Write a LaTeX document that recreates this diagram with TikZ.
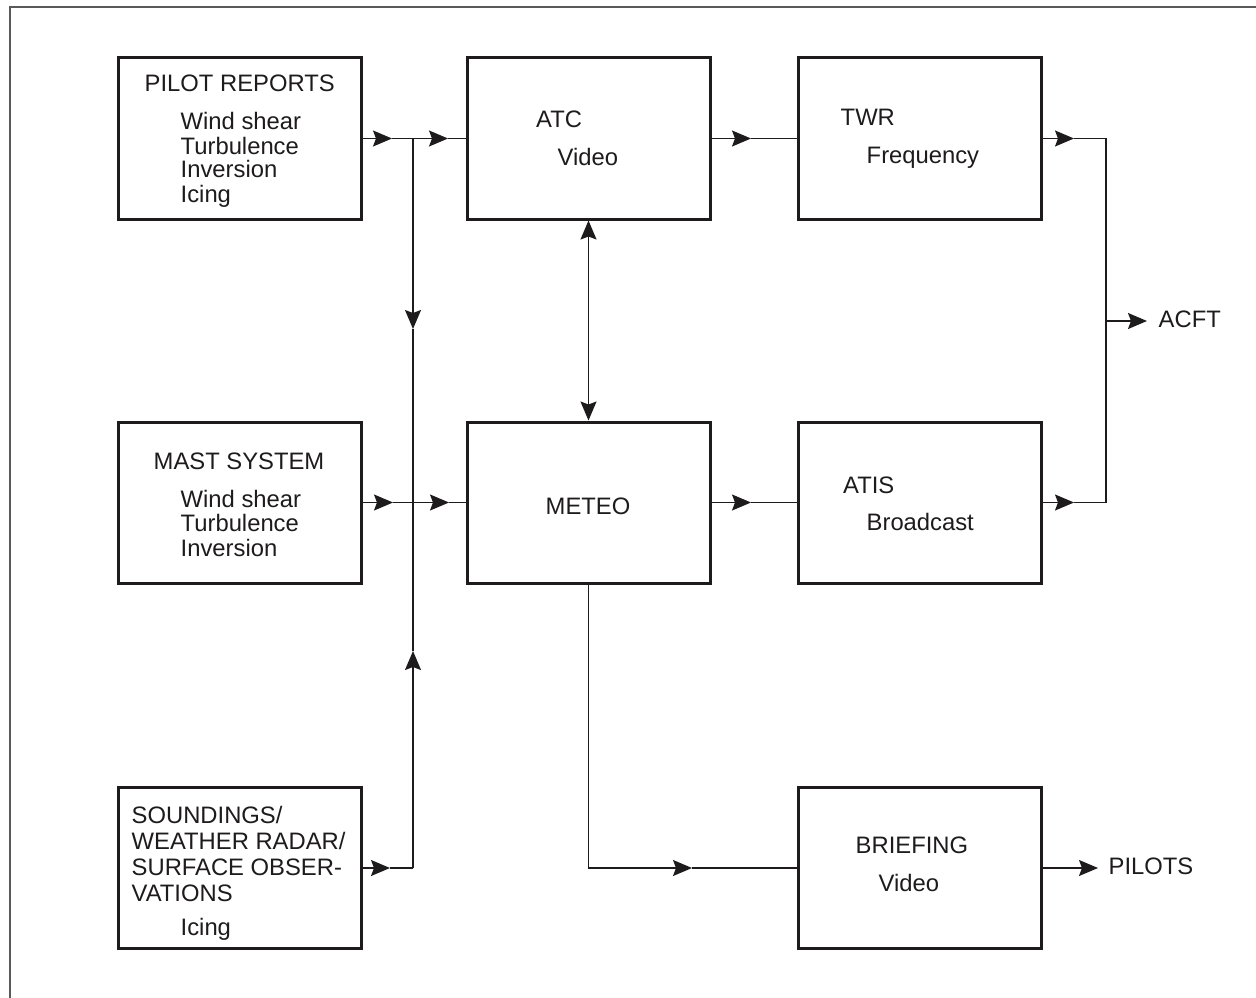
\documentclass[tikz,border=0pt]{standalone}
\usepackage{fontspec}
\setmainfont{Liberation Sans}
\usetikzlibrary{arrows.meta}
\definecolor{ink}{RGB}{30,27,28}
\begin{document}
\begin{tikzpicture}[x=1pt,y=-1pt,
  box/.style={draw=ink, line width=3pt, minimum width=243pt, minimum height=161pt, inner sep=0pt},
  txt/.style={anchor=base west, inner sep=0pt, font=\fontsize{23.8}{24}\selectfont, text=ink},
  conn/.style={draw=ink, line width=1.4pt},
  tip/.style={-{Stealth[length=19pt,width=16pt,inset=3pt]}},
  dtip/.style={{Stealth[length=19pt,width=16pt,inset=3pt]}-{Stealth[length=19pt,width=16pt,inset=3pt]}}
]
\useasboundingbox (0,0) rectangle (1256,998);
\fill[white] (0,0) rectangle (1256,998);
% frame
\draw[draw=black!65, line width=1.3pt] (1258,7) -- (10,7) -- (10,1000);

% boxes
\node[box] (pilot) at (240,138.5) {};
\node[box] (atc)   at (588.5,138.5) {};
\node[box] (twr)   at (919.5,138.5) {};
\node[box] (mast)  at (240,502.5) {};
\node[box] (meteo) at (588.5,502.5) {};
\node[box] (atis)  at (919.5,502.5) {};
\node[box] (sound) at (240,868) {};
\node[box] (brief) at (919.5,868) {};

% texts
\node[txt] (prT) at (144.5,92) {PILOT REPORTS};
\node[txt] (pr1) at (180.5,129) {Wind shear};
\node[txt] (pr2) at (180.5,154) {Turbulence};
\node[txt] (pr3) at (180.5,177.5) {Inversion};
\node[txt] (pr4) at (180.5,202) {Icing};

\node[txt] (atcT) at (536,127) {ATC};
\node[txt] (atc1) at (557.5,165) {Video};

\node[txt] (twrT) at (840.5,125) {TWR};
\node[txt] (twr1) at (866.5,163) {Frequency};

\node[txt] (msT) at (153.5,469) {MAST SYSTEM};
\node[txt] (ms1) at (180.5,507) {Wind shear};
\node[txt] (ms2) at (180.5,531) {Turbulence};
\node[txt] (ms3) at (180.5,556) {Inversion};

\node[txt] (meteoT) at (545.5,514) {METEO};

\node[txt] (atisT) at (843,493) {ATIS};
\node[txt] (atis1) at (866.5,530) {Broadcast};

\node[txt] (sd1) at (131.5,823) {SOUNDINGS/};
\node[txt] (sd2) at (131.5,849) {WEATHER RADAR/};
\node[txt] (sd3) at (131.5,875) {SURFACE OBSER-};
\node[txt] (sd4) at (131.5,901) {VATIONS};
\node[txt] (sd5) at (180.5,935) {Icing};

\node[txt] (brT) at (855.5,853) {BRIEFING};
\node[txt] (br1) at (878.5,891) {Video};

\node[txt] (acft) at (1158.5,327) {ACFT};
\node[txt] (pilots) at (1108.5,874) {PILOTS};

% connector points
\coordinate (pa1) at (392,138.5);
\coordinate (pj)  at (413,138.5);
\coordinate (pa2) at (448,138.5);
\coordinate (vd)  at (413,329);
\coordinate (mj)  at (413,502.5);
\coordinate (ma1) at (393,502.5);
\coordinate (ma2) at (449,502.5);
\coordinate (vu)  at (413,651);
\coordinate (sj)  at (413,868);
\coordinate (sa1) at (390,868);
\coordinate (ta)  at (751,138.5);
\coordinate (ma3) at (751,502.5);
\coordinate (ra1) at (1074,138.5);
\coordinate (rj1) at (1106,138.5);
\coordinate (ra2) at (1074,502.5);
\coordinate (rj2) at (1106,502.5);
\coordinate (rjm) at (1106,321);
\coordinate (at)  at (1147,321);
\coordinate (mbc) at (meteo.south |- brief.west);
\coordinate (mba) at (692,868);
\coordinate (pt)  at (1098,868);

% pilot reports row
\draw[conn,tip] (pilot.east) -- (pa1);
\draw[conn] (pa1) -- (pj);
\draw[conn,tip] (pj) -- (pa2);
\draw[conn] (pa2) -- (atc.west);
% vertical bus
\draw[conn,tip] (pj) -- (vd);
\draw[conn] (vd) -- (mj);
\draw[conn,tip] (sj) -- (vu);
\draw[conn] (vu) -- (mj);
% mast row
\draw[conn,tip] (mast.east) -- (ma1);
\draw[conn] (ma1) -- (mj);
\draw[conn,tip] (mj) -- (ma2);
\draw[conn] (ma2) -- (meteo.west);
% soundings
\draw[conn,tip] (sound.east) -- (sa1);
\draw[conn] (sa1) -- (sj);
% atc - meteo
\draw[conn,dtip] (atc.south) -- (meteo.north);
% to twr / atis
\draw[conn,tip] (atc.east) -- (ta);
\draw[conn] (ta) -- (twr.west);
\draw[conn,tip] (meteo.east) -- (ma3);
\draw[conn] (ma3) -- (atis.west);
% to acft
\draw[conn,tip] (twr.east) -- (ra1);
\draw[conn,tip] (atis.east) -- (ra2);
\draw[conn] (ra1) -- (rj1) -- (rj2) -- (ra2);
\draw[conn,tip] (rjm) -- (at);
% briefing
\draw[conn,tip] (meteo.south) -- (mbc) -- (mba);
\draw[conn] (mba) -- (brief.west);
\draw[conn,tip] (brief.east) -- (pt);
\end{tikzpicture}
\end{document}
